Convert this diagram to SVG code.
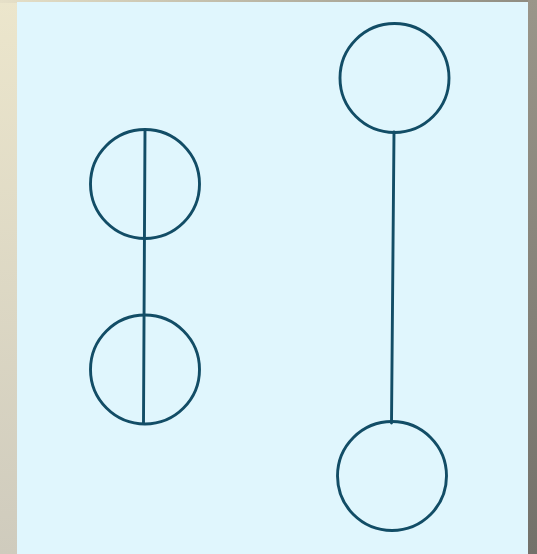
<svg xmlns="http://www.w3.org/2000/svg" width="537" height="554" viewBox="0 0 537 554">
<defs>
<linearGradient id="lb" x1="0" y1="0" x2="0" y2="1"><stop offset="0" stop-color="#ece6cc"/><stop offset="1" stop-color="#cfcbbd"/></linearGradient>
<linearGradient id="rb" x1="0" y1="0" x2="0" y2="1"><stop offset="0" stop-color="#9a968a"/><stop offset="1" stop-color="#73716a"/></linearGradient>
<linearGradient id="tb" x1="0" y1="0" x2="1" y2="0"><stop offset="0" stop-color="#e6e0c8"/><stop offset="1" stop-color="#8e8b80"/></linearGradient>
</defs>
<style>
.n{fill:none;stroke:#124d66;stroke-width:2.9}
.c{fill:none;stroke:#124d66;stroke-width:2.9;stroke-linecap:round}
</style>
<rect x="0" y="0" width="537" height="554" fill="url(#lb)"/>
<rect x="0" y="0" width="537" height="3" fill="url(#tb)"/>
<rect x="528" y="0" width="9" height="554" fill="url(#rb)"/>
<rect x="17" y="2" width="511" height="552" fill="#e0f6fd"/>
<g id="connectors">
<line class="c" x1="145" y1="130" x2="143.5" y2="423"/>
<line class="c" x1="394" y1="132" x2="391.5" y2="423"/>
</g>
<g id="n1"><circle class="n" cx="145" cy="184" r="54.5"/></g>
<g id="n2"><circle class="n" cx="145" cy="369.5" r="54.5"/></g>
<g id="n3"><circle class="n" cx="394.5" cy="78" r="54.5"/></g>
<g id="n4"><circle class="n" cx="392" cy="476" r="54.5"/></g>
</svg>
